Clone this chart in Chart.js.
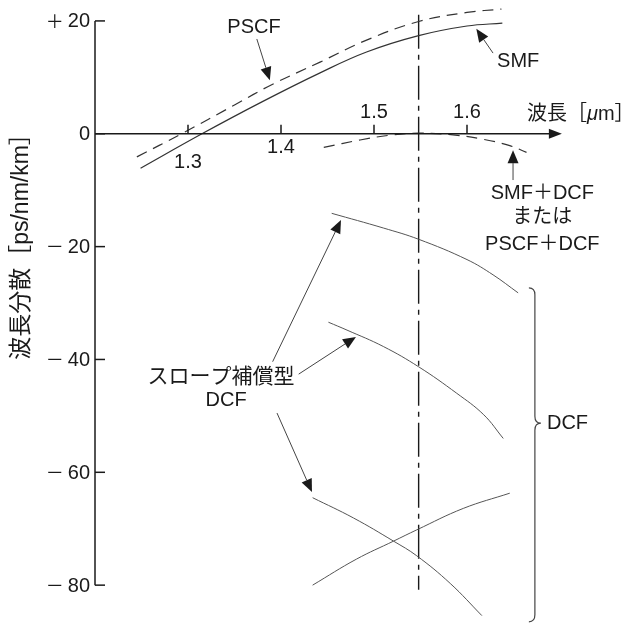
<!DOCTYPE html>
<html>
<head>
<meta charset="utf-8">
<script src="https://cdn.jsdelivr.net/npm/chart.js@4.4.1/dist/chart.umd.min.js"></script>
<style>
  html, body { margin:0; padding:0; background:#fff; }
  #wrap { width:638px; height:625px; }
</style>
</head>
<body>
<div id="wrap"><canvas id="dispChart" width="638" height="625"></canvas></div>
<script>
// 波長分散特性: 波長 [µm] vs 波長分散 [ps/nm/km]
const yTicks = [20, 0, -20, -40, -60, -80];
const yTickSigns = ['＋', '', '－', '－', '－', '－'];
const yTickLabels = ['20', '0', '20', '40', '60', '80'];
const xTicks = [1.3, 1.4, 1.5, 1.6];
const xTickLabels = ['1.3', '1.4', '1.5', '1.6'];

// SMF (solid)
const smfLambda = [1.249, 1.315, 1.38, 1.442, 1.492, 1.548, 1.600, 1.638];
const smfDisp   = [-6.1, 0, 5.7, 10.8, 14.5, 17.4, 19.1, 19.6];
// PSCF (dashed)
const pscfLambda = [1.245, 1.293, 1.35, 1.39, 1.442, 1.492, 1.548, 1.600, 1.637];
const pscfDisp   = [-4.1, 0, 5.1, 8.7, 12.7, 16.6, 19.9, 21.5, 22.1];
// SMF+DCF / PSCF+DCF (dashed)
const compLambda = [1.446, 1.485, 1.515, 1.548, 1.585, 1.618, 1.646, 1.664];
const compDisp   = [-2.4, -1.1, -0.3, 0.1, -0.2, -1.0, -2.1, -3.3];
// DCF curves
const dcf1Lambda = [1.4545, 1.51, 1.548, 1.600, 1.628, 1.655];
const dcf1Disp   = [-14.1, -16.7, -18.7, -22.3, -25.0, -28.2];
const dcf2Lambda = [1.451, 1.471, 1.51, 1.548, 1.589, 1.618, 1.639];
const dcf2Disp   = [-33.4, -34.8, -37.7, -41.3, -46.0, -49.8, -54.0];
const dcf3Lambda = [1.434, 1.478, 1.521, 1.546, 1.582, 1.616];
const dcf3Disp   = [-64.5, -68.1, -72.2, -74.8, -79.7, -85.4];
const dcf4Lambda = [1.434, 1.481, 1.521, 1.546, 1.596, 1.646];
const dcf4Disp   = [-80.0, -75.4, -72.2, -70.2, -66.4, -63.7];
// 1.55 µm 帯の基準線
const refLambda = [1.548, 1.548];
const refDisp   = [21.1, -80.8];

const pts = (xs, ys) => xs.map((x, i) => ({ x: x, y: ys[i] }));
const INK = '#1a1a1a';
const FONT = '"Liberation Sans", "Noto Sans CJK JP", sans-serif';

function curve(data, opts) {
  return Object.assign({ data: data, showLine: true, pointRadius: 0, borderColor: '#333', borderWidth: 1.2, tension: 0.4, fill: false }, opts || {});
}

// arrow with filled head
function arrow(ctx, x1, y1, x2, y2) {
  const a = Math.atan2(y2 - y1, x2 - x1), L = 13, W = 5.5;
  const bx = x2 - L * Math.cos(a), by = y2 - L * Math.sin(a);
  ctx.beginPath(); ctx.moveTo(x1, y1); ctx.lineTo(bx, by); ctx.lineWidth = 1; ctx.strokeStyle = '#444'; ctx.stroke();
  ctx.beginPath(); ctx.moveTo(x2, y2);
  ctx.lineTo(bx + W * Math.sin(a), by - W * Math.cos(a));
  ctx.lineTo(bx - W * Math.sin(a), by + W * Math.cos(a));
  ctx.closePath(); ctx.fillStyle = INK; ctx.fill();
}

const notesPlugin = {
  id: 'notes',
  afterDatasetsDraw(chart) {
    const ctx = chart.ctx, xs = chart.scales.x, ys = chart.scales.y;
    const px = v => xs.getPixelForValue(v), py = v => ys.getPixelForValue(v);
    const x0 = px(1.2), y0 = py(0);
    ctx.save();
    ctx.strokeStyle = INK; ctx.fillStyle = INK; ctx.lineWidth = 1.5;

    // y axis + ticks
    ctx.beginPath(); ctx.moveTo(x0, py(20)); ctx.lineTo(x0, py(-80)); ctx.stroke();
    ctx.textAlign = 'right'; ctx.textBaseline = 'middle';
    yTicks.forEach((t, i) => {
      ctx.beginPath(); ctx.moveTo(x0, py(t)); ctx.lineTo(x0 + 10, py(t)); ctx.stroke();
      ctx.font = '20px ' + FONT;
      ctx.fillText(yTickLabels[i], x0 - 5, py(t) + 1);
      const w = ctx.measureText(yTickLabels[i]).width;
      ctx.font = '18px "Noto Sans CJK JP", sans-serif';
      ctx.fillText(yTickSigns[i], x0 - 9 - w, py(t));
    });

    // x axis with arrow
    const xEnd = px(1.702);
    ctx.beginPath(); ctx.moveTo(x0, y0); ctx.lineTo(xEnd - 10, y0); ctx.stroke();
    ctx.beginPath(); ctx.moveTo(xEnd, y0); ctx.lineTo(xEnd - 13, y0 - 5); ctx.lineTo(xEnd - 13, y0 + 5); ctx.closePath(); ctx.fill();
    const labOff = [29, 14, -21, -21];
    ctx.font = '20px ' + FONT; ctx.textAlign = 'center';
    xTicks.forEach((t, i) => {
      ctx.beginPath(); ctx.moveTo(px(t), y0); ctx.lineTo(px(t), y0 - 9); ctx.stroke();
      ctx.fillText(xTickLabels[i], px(t), y0 + labOff[i]);
    });

    // axis titles
    ctx.textAlign = 'left';
    let tx = px(1.6645); const ty = py(3.5);
    [['波長［', '20px ' + FONT], ['μ', 'italic 20px ' + FONT], ['m］', '20px ' + FONT]].forEach(r => {
      ctx.font = r[1]; ctx.fillText(r[0], tx, ty); tx += ctx.measureText(r[0]).width;
    });
    ctx.save();
    ctx.translate(22, py(-19)); ctx.rotate(-Math.PI / 2);
    ctx.font = '23px ' + FONT; ctx.textAlign = 'center';
    ctx.fillText('波長分散［ps/nm/km］', 0, 0);
    ctx.restore();

    // labels
    ctx.font = '20px ' + FONT; ctx.textAlign = 'center';
    ctx.fillText('PSCF', px(1.371), py(18.9));
    ctx.fillText('SMF', px(1.655), py(12.9));
    ctx.fillText('SMF＋DCF', px(1.681), py(-10.5));
    ctx.fillText('または', px(1.681), py(-14.9));
    ctx.fillText('PSCF＋DCF', px(1.681), py(-19.7));
    ctx.font = '21px ' + FONT;
    ctx.fillText('スロープ補償型', px(1.3355), py(-43.1));
    ctx.font = '20px ' + FONT;
    ctx.fillText('DCF', px(1.341), py(-47.2));
    ctx.textAlign = 'left';
    ctx.fillText('DCF', px(1.686), py(-51.3));

    // arrows
    arrow(ctx, px(1.374), py(16.8), px(1.388), py(9.5));
    arrow(ctx, px(1.628), py(14.3), px(1.610), py(18.6));
    arrow(ctx, px(1.6495), py(-8.2), px(1.6495), py(-2.9));
    arrow(ctx, px(1.391), py(-40.4), px(1.4645), py(-15.3));
    arrow(ctx, px(1.419), py(-42.6), px(1.4806), py(-36.0));
    arrow(ctx, px(1.3957), py(-49.5), px(1.4333), py(-63.5));

    // brace
    const bx = px(1.673), bt = py(-27.3), bm = py(-51.3), bb = py(-86.5);
    ctx.beginPath(); ctx.lineWidth = 1.2; ctx.strokeStyle = '#444';
    ctx.moveTo(bx - 6, bt); ctx.quadraticCurveTo(bx, bt, bx, bt + 7);
    ctx.lineTo(bx, bm - 7); ctx.quadraticCurveTo(bx, bm, bx + 6, bm);
    ctx.quadraticCurveTo(bx, bm, bx, bm + 7);
    ctx.lineTo(bx, bb - 7); ctx.quadraticCurveTo(bx, bb, bx - 6, bb);
    ctx.stroke();
    ctx.restore();
  }
};

new Chart(document.getElementById('dispChart').getContext('2d'), {
  type: 'scatter',
  data: {
    datasets: [
      curve(pts(smfLambda, smfDisp)),
      curve(pts(pscfLambda, pscfDisp), { borderDash: [11, 7] }),
      curve(pts(compLambda, compDisp), { borderDash: [11, 7] }),
      curve(pts(dcf1Lambda, dcf1Disp), { borderColor: '#555', borderWidth: 1 }),
      curve(pts(dcf2Lambda, dcf2Disp), { borderColor: '#555', borderWidth: 1 }),
      curve(pts(dcf3Lambda, dcf3Disp), { borderColor: '#555', borderWidth: 1 }),
      curve(pts(dcf4Lambda, dcf4Disp), { borderColor: '#555', borderWidth: 1 }),
      curve(pts(refLambda, refDisp), { borderColor: INK, borderWidth: 1.4, borderDash: [34, 6, 5, 6], tension: 0 })
    ]
  },
  options: {
    responsive: false,
    animation: false,
    devicePixelRatio: 1,
    layout: { padding: { left: 95, right: 78, top: 4, bottom: 6 } },
    plugins: { legend: { display: false }, tooltip: { enabled: false } },
    scales: {
      x: { type: 'linear', min: 1.2, max: 1.7, display: false },
      y: { type: 'linear', min: -86, max: 23, display: false }
    },
    clip: false
  },
  plugins: [notesPlugin]
});
</script>
</body>
</html>
